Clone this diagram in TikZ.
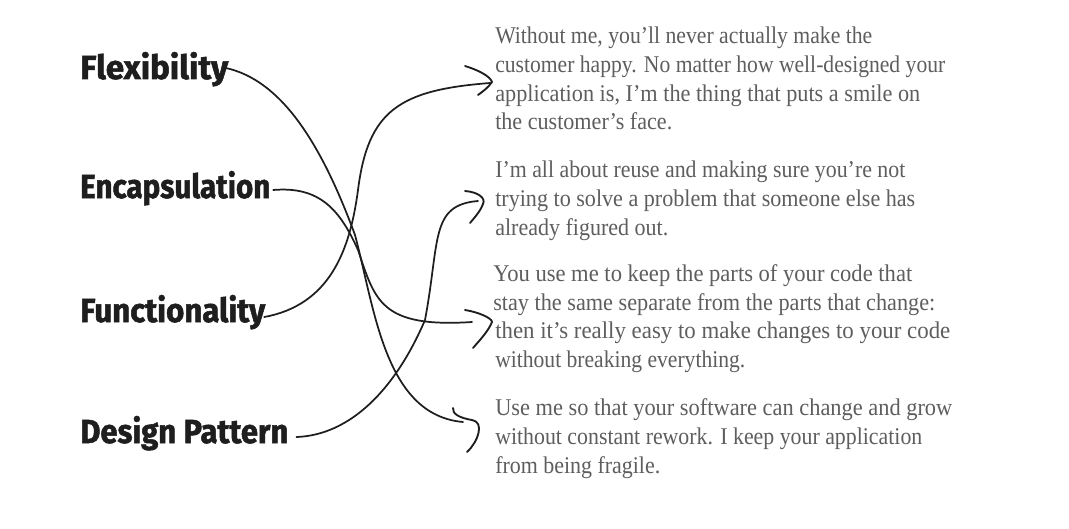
\documentclass[tikz,border=0pt]{standalone}
\usepackage{fontspec}
\setmainfont{Liberation Serif}
\newfontfamily\lblfont[BoldFeatures={FakeBold=1.6}]{Fira Sans}
\newdimen\pxu \pxu=0.75pt
\definecolor{txtgray}{HTML}{5E5E5E}
\definecolor{ink}{HTML}{1E1E1E}
\tikzset{
  txt/.style={inner sep=0pt, text=txtgray, font=\fontsize{18}{21}\selectfont, anchor=base west},
  lbl/.style={inner sep=0pt, text=ink, font=\lblfont\bfseries\fontsize{25}{28}\selectfont, anchor=base west},
  conn/.style={draw=ink, line width=1.3pt, line cap=round},
  hook/.style={draw=ink, line width=1.4pt, line cap=round, line join=round}
}
\newcommand{\tline}[4]{\node[txt] (#1) at #2 {\resizebox{#3\pxu}{\height}{#4}};}
\newcommand{\lbline}[4]{\node[lbl] (#1) at #2 {\resizebox{#3\pxu}{\height}{#4}};}
\begin{document}
\begin{tikzpicture}[x=0.75pt,y=-0.75pt]
\useasboundingbox[fill=white] (0,0) rectangle (1069,528);
% labels
\lbline{flex}{(80,79)}{148}{Flexibility}
\lbline{enc}{(80,198)}{190}{Encapsulation}
\lbline{func}{(80,322)}{185}{Functionality}
\lbline{dp}{(80,443)}{208}{Design Pattern}
% block 1
\tline{a1}{(495,44)}{377}{Without me, you'll never actually make the}
\tline{a2}{(495,73)}{450}{customer happy. No matter how well-designed your}
\tline{a3}{(495,101)}{425}{application is, I'm the thing that puts a smile on}
\tline{a4}{(495,129)}{177}{the customer's face.}
% block 2
\tline{b1}{(495,177)}{410}{I'm all about reuse and making sure you're not}
\tline{b2}{(495,206)}{420}{trying to solve a problem that someone else has}
\tline{b3}{(495,235)}{173}{already figured out.}
% block 3
\tline{c1}{(493,281)}{419}{You use me to keep the parts of your code that}
\tline{c2}{(493,310)}{442}{stay the same separate from the parts that change:}
\tline{c3}{(495,338)}{455}{then it's really easy to make changes to your code}
\tline{c4}{(495,367)}{250}{without breaking everything.}
% block 4
\tline{d1}{(495,415)}{457}{Use me so that your software can change and grow}
\tline{d2}{(495,444)}{427}{without constant rework. I keep your application}
\tline{d3}{(495,473)}{165}{from being fragile.}
% tips
\coordinate (t1) at (490,83);
\coordinate (t2) at (478,201);
\coordinate (t3) at (472,322);
\coordinate (t4) at (463,422);
% connectors
\draw[conn] ([xshift=-2pt]flex.east |- 0,68) .. controls (280,80) and (320,140) .. (355,235)
  .. controls (375,310) and (385,415) .. (t4);
\draw[conn] ([xshift=2pt]enc.east |- 0,190) .. controls (320,186) and (340,210) .. (358,250)
  .. controls (375,300) and (380,328) .. (t3);
\draw[conn] ([xshift=-1pt]func.east |- 0,317) .. controls (330,305) and (350,250) .. (358,190)
  .. controls (368,110) and (400,90) .. (t1);
\draw[conn] ([xshift=6pt]dp.east |- 0,437) .. controls (350,435) and (395,390) .. (425,320)
  .. controls (440,240) and (430,205) .. (t2);
% arrow hooks
\draw[hook] (465,66) .. controls (478,70) and (490,76) .. (492,82) .. controls (488,88) and (482,92) .. (478,95);
\draw[hook] (465,191) .. controls (478,192) and (486,198) .. (483,204) .. controls (480,212) and (474,218) .. (470,223);
\draw[hook] (465,310) .. controls (478,312) and (492,318) .. (492,322) .. controls (488,332) and (478,342) .. (473,348);
\draw[hook] (453,408) .. controls (452,414) and (460,418) .. (472,420) .. controls (485,422) and (478,442) .. (467,452);
\end{tikzpicture}
\end{document}
